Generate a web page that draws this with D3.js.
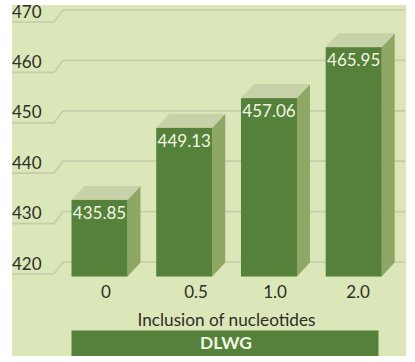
<!DOCTYPE html>
<html>
<head>
<meta charset="utf-8">
<script src="https://cdn.jsdelivr.net/npm/d3@7"></script>
<style>
html,body{margin:0;padding:0;background:#fff;}
svg{display:block;}
text{font-family:"Lato","Open Sans",sans-serif;}
</style>
</head>
<body>
<svg id="chart" width="415" height="362"></svg>
<script>
const categories = ["0", "0.5", "1.0", "2.0"];
const valueLabels = ["435.85", "449.13", "457.06", "465.95"];
// Bar heights as drawn in the picture, read against the left axis (they differ slightly from the printed labels).
const drawnLevels = [434.7, 449.0, 454.9, 465.0];
const yTicks = [420, 430, 440, 450, 460, 470];
const xTitle = "Inclusion of nucleotides";
const bannerTitle = "DLWG";

const W = 415, H = 362;
const panel = {x: 12, y: 5, w: 394, h: 351};
const depthX = 13, depthY = 14;
const baseLevel = 419.5;

const colors = {
  panel: "#dbe6b9", grid: "#c6cdab", front: "#56813a", side: "#8ea765",
  top: "#c7d2a9", axisText: "#2e2e26", valueText: "#f3f6e4"
};

const svg = d3.select("#chart");
const x = d3.scaleBand().domain(categories).range([71.5, 381.7]).paddingInner(0.339).paddingOuter(0);
const y = d3.scaleLinear().domain([420, 470]).range([274, 22]);
const xLabel = d3.scaleOrdinal().domain(categories).range([106, 196, 275, 358]);

svg.append("rect").attr("x", panel.x).attr("y", panel.y)
  .attr("width", panel.w).attr("height", panel.h).attr("fill", colors.panel);

// Grid: front segment, diagonal, then back wall
const gridLine = d3.line();
svg.append("g").selectAll("path").data(yTicks).join("path")
  .attr("d", t => gridLine([
    [panel.x, y(t)],
    [54, y(t)],
    [54 + depthX - 4, y(t) - depthY + 2],
    [panel.x + panel.w - 1, y(t) - depthY + 2]
  ]))
  .attr("fill", "none").attr("stroke", colors.grid).attr("stroke-width", 1.7);

svg.append("g").selectAll("text").data(yTicks).join("text")
  .attr("x", 12).attr("y", t => y(t) - 4.5)
  .attr("font-size", 17).attr("fill", colors.axisText)
  .text(d => d);

// 3-D bars
const bars = svg.append("g").selectAll("g")
  .data(categories.map((c, i) => ({c, level: drawnLevels[i], label: valueLabels[i]})))
  .join("g");
const base = y(baseLevel);

bars.append("path").attr("fill", colors.side).attr("d", d => {
  const r = x(d.c) + x.bandwidth(), t = y(d.level);
  return `M${r},${t}L${r + depthX},${t - depthY}L${r + depthX},${base - depthY}L${r},${base}Z`;
});
bars.append("path").attr("fill", colors.top).attr("d", d => {
  const l = x(d.c), r = l + x.bandwidth(), t = y(d.level);
  return `M${l},${t}L${l + depthX},${t - depthY}L${r + depthX},${t - depthY}L${r},${t}Z`;
});
bars.append("rect").attr("fill", colors.front)
  .attr("x", d => x(d.c)).attr("width", x.bandwidth())
  .attr("y", d => y(d.level)).attr("height", d => base - y(d.level));
bars.append("text")
  .attr("x", d => x(d.c) + x.bandwidth() / 2).attr("y", d => y(d.level) + 18.7)
  .attr("text-anchor", "middle").attr("font-size", 17).attr("fill", colors.valueText)
  .text(d => d.label);

// Category labels
svg.append("g").selectAll("text").data(categories).join("text")
  .attr("x", d => xLabel(d)).attr("y", 298)
  .attr("text-anchor", "middle").attr("font-size", 17).attr("fill", colors.axisText)
  .text(d => d);

svg.append("text").attr("x", 226.5).attr("y", 326)
  .attr("text-anchor", "middle").attr("font-size", 17.2).attr("fill", colors.axisText)
  .text(xTitle);

svg.append("rect").attr("x", 71.5).attr("y", 330.5).attr("width", 307).attr("height", 25.5).attr("fill", colors.front);
svg.append("text").attr("x", 226).attr("y", 349)
  .attr("text-anchor", "middle").attr("font-size", 17.4).attr("font-weight", 700)
  .attr("fill", colors.valueText).text(bannerTitle);
</script>
</body>
</html>
